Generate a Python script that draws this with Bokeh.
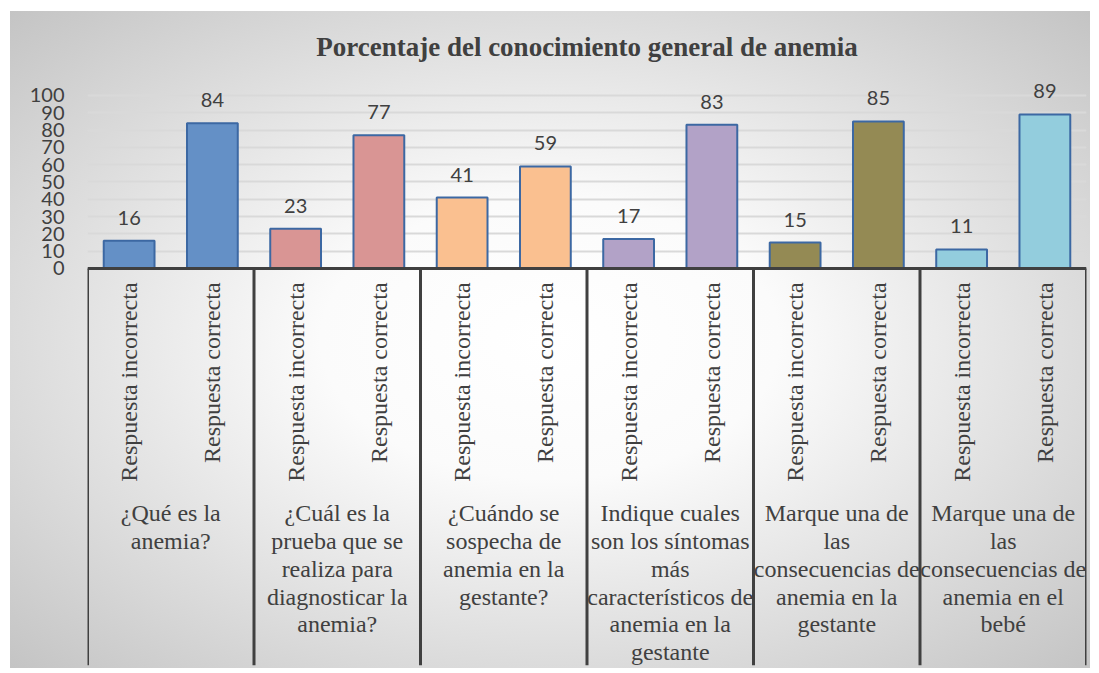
from bokeh.plotting import figure
from bokeh.models import FactorRange, FixedTicker, Span, ColumnDataSource, Range1d
from bokeh.core.properties import value
from bokeh.embed import file_html
from bokeh.resources import INLINE
import math

title_text = "Porcentaje del conocimiento general de anemia"
groups = [
    "¿Qué es la\nanemia?",
    "¿Cuál es la\nprueba que se\nrealiza para\ndiagnosticar la\nanemia?",
    "¿Cuándo se\nsospecha de\nanemia en la\ngestante?",
    "Indique cuales\nson los síntomas\nmás\ncaracterísticos de\nanemia en la\ngestante",
    "Marque una de\nlas\nconsecuencias de\nanemia en la\ngestante",
    "Marque una de\nlas\nconsecuencias de\nanemia en el\nbebé",
]
responses = ["Respuesta incorrecta", "Respuesta correcta"]
incorrect = [16, 23, 41, 17, 15, 11]
correct = [84, 77, 59, 83, 85, 89]
y_ticks = [0, 10, 20, 30, 40, 50, 60, 70, 80, 90, 100]

group_colors = ["#6490c6", "#d99594", "#fac090", "#b2a2c7", "#948a54", "#93cddd"]

factors = []
vals = []
cols = []
for g, a, b, c in zip(groups, incorrect, correct, group_colors):
    factors += [(g, responses[0]), (g, responses[1])]
    vals += [a, b]
    cols += [c, c]

src = ColumnDataSource(dict(x=factors, top=vals, color=cols,
                            label=[str(v) for v in vals],
                            resp=[f[1] for f in factors]))

x_range = FactorRange(*factors, group_padding=0, factor_padding=0, range_padding=0)

p = figure(x_range=x_range, y_range=Range1d(-229.5, 109.8),
           width=1080, height=657, output_backend="svg", toolbar_location=None,
           min_border_left=77, min_border_right=4, min_border_top=67, min_border_bottom=3)

p.styles = {"background": "radial-gradient(ellipse farthest-corner at 50% 50%, #ffffff 0%, #fbfbfb 30%, #c4c4c4 100%)",
            "margin-left": "10px", "margin-top": "11px"}
p.background_fill_color = None
p.border_fill_color = None
p.outline_line_color = None

p.title.text = title_text
p.title.text_font = "Liberation Serif"
p.title.text_font_style = "bold"
p.title.text_font_size = "27px"
p.title.text_color = "#404040"
p.title.align = "center"
p.title.standoff = 34
p.title.offset = -5

p.xaxis.visible = False
p.xgrid.visible = False

yax = p.yaxis[0]
yax.ticker = FixedTicker(ticks=y_ticks)
yax.axis_line_color = None
yax.major_tick_line_color = None
yax.minor_tick_line_color = None
yax.major_tick_out = 0
yax.major_label_standoff = 23
yax.major_label_text_font = "Lato"
yax.major_label_text_font_size = "20px"
yax.major_label_text_color = "#404040"

p.ygrid.ticker = FixedTicker(ticks=y_ticks)
p.ygrid.grid_line_color = "#d9d9d9"
p.ygrid.grid_line_width = 2

p.vbar(x="x", top="top", width=0.61, source=src, fill_color="color",
       line_color="#3c68a3", line_width=2)

p.text(x="x", y="top", text="label", source=src, y_offset=-23,
       text_align="center", text_baseline="alphabetic",
       text_font=value("Lato"), text_font_size="20px", text_color="#404040")

# axis line at zero
p.add_layout(Span(location=0, dimension="width", line_color="#404040", line_width=3))

# group separators
bounds = [2 * i for i in range(len(groups) + 1)]
p.segment(x0=bounds, x1=bounds, y0=[0] * len(bounds), y1=[-229.5] * len(bounds),
          line_color="#404040", line_width=3)

# rotated response labels
p.text(x="x", y=0, text="resp", source=src, y_offset=14, angle=math.pi / 2,
       text_align="right", text_baseline="middle",
       text_font=value("Liberation Serif"), text_font_size="24px", text_color="#404040")

# group labels
p.text(x=groups, y=[0] * len(groups), text=groups, y_offset=232,
       text_align="center", text_baseline="top", text_line_height=1.065,
       text_font=value("Liberation Serif"), text_font_size="24px", text_color="#404040")

open("out.html", "w").write(file_html(p, INLINE))
